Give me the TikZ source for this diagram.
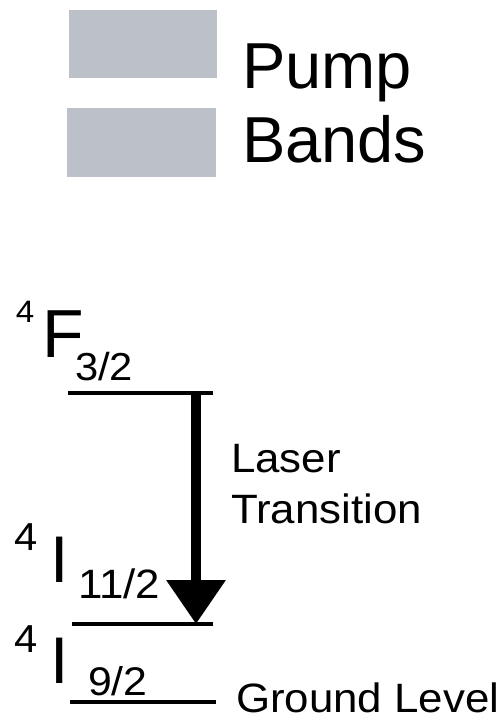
\documentclass[tikz,border=0pt]{standalone}
\usepackage{fontspec}
\setmainfont{Liberation Sans}
\newfontfamily\widesans[FakeStretch=1.07]{Liberation Sans}
\usetikzlibrary{arrows.meta}
\definecolor{bandgray}{HTML}{BCC0C8}
\tikzset{
  band/.style={fill=bandgray, draw=none},
  level/.style={line width=4pt, black},
  lbl/.style={anchor=base west, inner sep=0pt, outer sep=0pt},
  wlbl/.style={lbl, font=\widesans},
  transition/.style={line width=10pt, -{Triangle[length=44pt,width=57pt]}},
}
\newcommand{\fs}[1]{\fontsize{#1pt}{#1pt}\selectfont}
\begin{document}
\begin{tikzpicture}[x=1pt,y=-1pt]
  \useasboundingbox (0,0) rectangle (501,720);
  % pump bands
  \fill[band] (69,10) rectangle (217,78);
  \fill[band] (67,108) rectangle (216,177);
  \node[lbl] (pump) at (242,88) {\fs{65}Pump};
  \node[lbl] (bands) at (242,162) {\fs{65}Bands};
  % 4F_{3/2}
  \node[wlbl] (fsup) at (16,322) {\fs{31}4};
  \node[lbl] (fsym) at (42,357) {\fs{68}F};
  \node[wlbl] (fj) at (75,380) {\fs{39}3/2};
  \coordinate (f1) at (68,393);
  \coordinate (f2) at (213,393);
  \draw[level] (f1) -- (f2);
  % 4I_{11/2}
  \node[wlbl] (isup) at (14,550) {\fs{39}4};
  \node[lbl] (isym) at (50,582) {\fs{66}I};
  \node[wlbl] (ij) at (78,598) {\fs{41}11/2};
  \coordinate (i1) at (72,624);
  \coordinate (i2) at (213,624);
  \draw[level] (i1) -- (i2);
  % 4I_{9/2}
  \node[wlbl] (gsup) at (14,652) {\fs{39}4};
  \node[lbl] (gsym) at (50,683) {\fs{66}I};
  \node[wlbl] (gj) at (88,695) {\fs{40}9/2};
  \coordinate (g1) at (70,702);
  \coordinate (g2) at (216,702);
  \draw[level] (g1) -- (g2);
  \node[wlbl] (ground) at (236,712) {\fs{41}Ground Level};
  % laser transition
  \coordinate (ttop) at (196,391);
  \coordinate (tbot) at (196,624);
  \draw[transition] (ttop) -- (tbot);
  \node[wlbl] (laser) at (231,472) {\fs{41}Laser};
  \node[wlbl] (trans) at (231,523) {\fs{41}Transition};
\end{tikzpicture}
\end{document}
